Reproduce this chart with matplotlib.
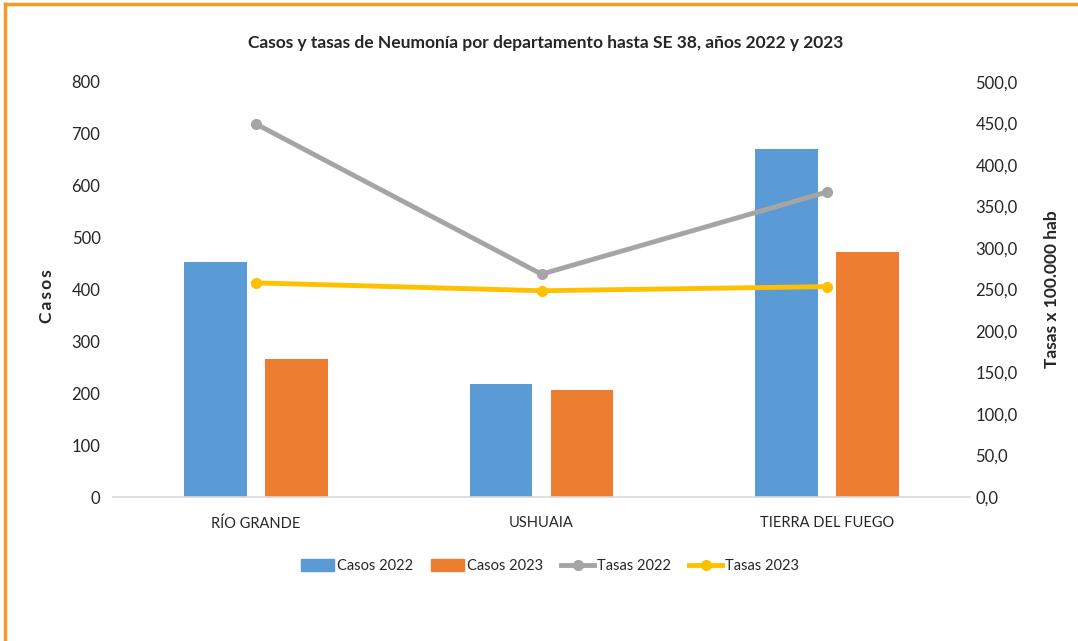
import matplotlib
matplotlib.use("Agg")
import matplotlib.pyplot as plt
from matplotlib.lines import Line2D
from matplotlib.patches import Patch
import numpy as np

plt.rcParams['font.family'] = ['Lato', 'DejaVu Sans']

categories = ["RÍO GRANDE", "USHUAIA", "TIERRA DEL FUEGO"]
casos_2022 = [453, 218, 671]
casos_2023 = [266, 206, 472]
tasas_2022 = [449.5, 268.5, 367.5]
tasas_2023 = [258.0, 248.5, 253.5]
left_ticks = [0, 100, 200, 300, 400, 500, 600, 700, 800]
right_ticks = [0, 50, 100, 150, 200, 250, 300, 350, 400, 450, 500]

c_blue = "#5B9BD5"
c_orange = "#ED7D31"
c_gray = "#A5A5A5"
c_yellow = "#FFC000"
txt = "#262626"

fig = plt.figure(figsize=(10.78, 6.41), dpi=100)
ax = fig.add_axes([113/1078, 1-497/641, (970-113)/1078, (497-82)/641])
ax2 = ax.twinx()

x = np.arange(len(categories))
w = 0.22
off = 0.142
ax.bar(x - off, casos_2022, width=w, color=c_blue, zorder=2)
ax.bar(x + off, casos_2023, width=w, color=c_orange, zorder=2)
ax.set_xlim(-0.5, 2.5)
ax.set_ylim(0, 800)
ax.set_yticks(left_ticks)
ax.set_yticklabels([str(t) for t in left_ticks])
ax.set_xticks(x)
ax.set_xticklabels(categories)

ax2.plot(x, tasas_2022, color=c_gray, lw=3.5, marker='o', ms=7, zorder=3)
ax2.plot(x, tasas_2023, color=c_yellow, lw=3.5, marker='o', ms=7, zorder=3)
ax2.set_ylim(0, 500)
ax2.set_yticks(right_ticks)
ax2.set_yticklabels([f"{t},0" for t in right_ticks])

for a in (ax, ax2):
    for s in a.spines.values():
        s.set_visible(False)
    a.tick_params(length=0, labelsize=12, colors=txt)
ax.spines['bottom'].set_visible(True)
ax.spines['bottom'].set_color("#D9D9D9")
ax.spines['bottom'].set_linewidth(1.2)
ax.tick_params(axis='y', pad=9)
ax2.tick_params(axis='y', pad=4)
ax.tick_params(axis='x', pad=14, labelsize=10.5)

fig.text(47/1078, 1-296/641, "C\u2009a\u2009s\u2009o\u2009s", rotation=90, ha='center', va='center',
         fontsize=12.5, fontweight='bold', color=txt)
fig.text(1052/1078, 1-289/641, "Tasas x 100.000 hab", rotation=90, ha='center', va='center',
         fontsize=12.5, fontweight='bold', color=txt)
fig.text(546/1078, 1-43/641, "Casos y tasas de Neumonía por departamento hasta SE 38, años 2022 y 2023",
         ha='center', va='center', fontsize=12.5, fontweight='bold', color=txt)

handles = [Patch(color=c_blue, label="Casos 2022"),
           Patch(color=c_orange, label="Casos 2023"),
           Line2D([], [], color=c_gray, lw=3.5, marker='o', ms=7, label="Tasas 2022"),
           Line2D([], [], color=c_yellow, lw=3.5, marker='o', ms=7, label="Tasas 2023")]
fig.legend(handles=handles, loc='center', bbox_to_anchor=(550/1078, 1-566/641), ncol=4,
           frameon=False, fontsize=10.5, handlelength=2.3, handleheight=0.9,
           handletextpad=0.2, columnspacing=1.2, labelcolor=txt)

# border (top and left orange)
fig.add_artist(Line2D([5/1078, 1], [1-4/641, 1-4/641], color="#F59A23", lw=2.5, transform=fig.transFigure))
fig.add_artist(Line2D([5/1078, 5/1078], [1-4/641, 0], color="#F59A23", lw=2.5, transform=fig.transFigure))

fig.savefig("out.png", dpi=100)
